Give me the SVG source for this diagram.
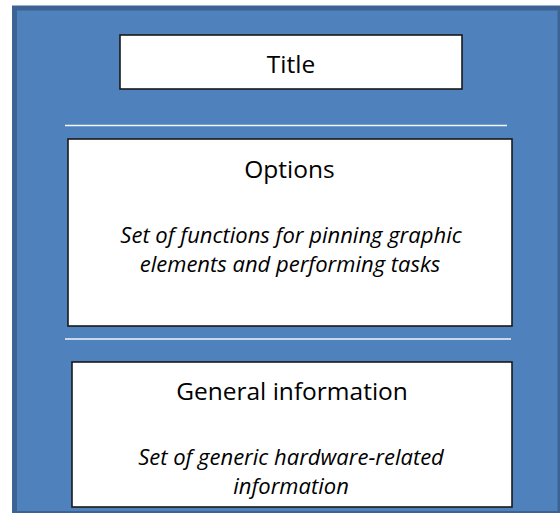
<svg xmlns="http://www.w3.org/2000/svg" width="560" height="513" viewBox="0 0 560 513">
<style>
.box{fill:#ffffff;stroke:#1a1a1a;stroke-width:1.6}
.sep{stroke:#f2f5fa;stroke-width:1.6}
.h{font-family:"Open Sans","Liberation Sans",sans-serif;font-size:24.5px;fill:#000;text-anchor:middle}
.i{font-family:"Open Sans","Liberation Sans",sans-serif;font-size:22px;font-style:italic;fill:#000;text-anchor:middle}
</style>
<rect width="560" height="513" fill="#ffffff"/>
<rect id="panel" x="14.5" y="8" width="545.5" height="505.5" fill="#4f81bd" stroke="#3c6394" stroke-width="5"/>
<g id="connectors">
<line class="sep" x1="65" y1="125.5" x2="507" y2="125.5"/>
<line class="sep" x1="65" y1="339" x2="511" y2="339"/>
</g>
<g id="title">
<rect class="box" x="120" y="35" width="342" height="54"/>
<text class="h" x="291" y="73">Title</text>
</g>
<g id="options">
<rect class="box" x="68" y="139" width="444" height="187"/>
<text class="h" x="289.5" y="177.5">Options</text>
<text class="i" x="291" y="243">Set of functions for pinning graphic</text>
<text class="i" x="290" y="271.5">elements and performing tasks</text>
</g>
<g id="general">
<rect class="box" x="72" y="362" width="440" height="145"/>
<text class="h" x="292" y="399.5">General information</text>
<text class="i" x="291" y="465">Set of generic hardware-related</text>
<text class="i" x="291" y="493.5">information</text>
</g>
</svg>
